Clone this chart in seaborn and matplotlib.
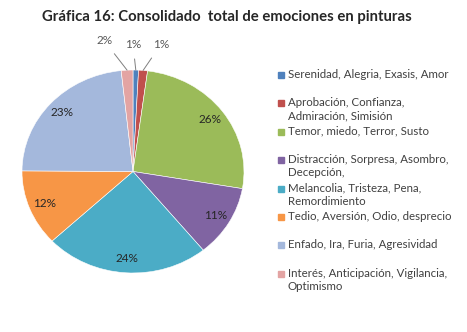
import matplotlib
matplotlib.use("Agg")
import matplotlib.pyplot as plt
import seaborn as sns
import numpy as np

# datos de la gráfica
categorias = [
    "Serenidad, Alegria, Exasis, Amor",
    "Aprobación, Confianza,\nAdmiración, Simisión",
    "Temor, miedo, Terror, Susto",
    "Distracción, Sorpresa, Asombro,\nDecepción,",
    "Melancolia, Tristeza, Pena,\nRemordimiento",
    "Tedio, Aversión, Odio, desprecio",
    "Enfado, Ira, Furia, Agresividad",
    "Interés, Anticipación, Vigilancia,\nOptimismo",
]
porcentajes = [0.8, 1.3, 25.6, 11.4, 23.9, 12.1, 23.2, 1.7]
colores = ["#4F81BD", "#C0504D", "#9BBB59", "#8064A2",
           "#4BACC6", "#F79646", "#A4B8DC", "#E3A4A3"]

sns.set_theme(style="white")
plt.rcParams["font.family"] = ["Lato", "DejaVu Sans"]

fig = plt.figure(figsize=(4.67, 3.32), dpi=100)
ax = fig.add_axes([22 / 467, 59 / 332, 222 / 467, 203 / 332])

wedges, _ = ax.pie(porcentajes, colors=sns.color_palette(colores),
                   startangle=90, counterclock=False,
                   wedgeprops=dict(edgecolor="white", linewidth=0.4))
ax.set_aspect("auto")
ax.set_xlim(-1, 1)
ax.set_ylim(-1, 1)

# etiquetas de porcentaje
texto_color = "#262626"
externas = []
for w, p in zip(wedges, porcentajes):
    ang = np.deg2rad((w.theta1 + w.theta2) / 2)
    etiqueta = f"{round(p):d}%"
    if p >= 3:
        ax.text(0.86 * np.cos(ang), 0.86 * np.sin(ang), etiqueta,
                ha="center", va="center", fontsize=8.5, color=texto_color)
    else:
        externas.append((ang, etiqueta))

# etiquetas de sectores pequeños con líneas guía
destinos = [(0.0, 1.25), (0.25, 1.25), (-0.26, 1.29)]
for (ang, etiqueta), (tx, ty) in zip(externas, destinos):
    ex, ey = np.cos(ang), np.sin(ang)
    ax.annotate(etiqueta, xy=(ex, ey), xytext=(tx, ty),
                ha="center", va="center", fontsize=8.5, color="#595959",
                annotation_clip=False,
                arrowprops=dict(arrowstyle="-", color="#7F7F7F", lw=0.7,
                                shrinkA=4, shrinkB=0))

# leyenda
y0 = 75
paso = 28.4
for i, (cat, col) in enumerate(zip(categorias, colores)):
    y = y0 + i * paso
    fig.patches.append(plt.Rectangle((278 / 467, 1 - (y + 3) / 332),
                                     6 / 467, 6 / 332, color=col,
                                     transform=fig.transFigure))
    fig.text(288 / 467, 1 - (y - 6) / 332, cat, ha="left", va="top",
             fontsize=8.3, color="#404040", linespacing=1.25)

fig.suptitle("Gráfica 16: Consolidado  total de emociones en pinturas",
             x=227 / 467, y=1 - 10 / 332, va="top", fontsize=10.7,
             fontweight="bold", color="#262626")

fig.savefig("out.png", dpi=100, facecolor="white")
